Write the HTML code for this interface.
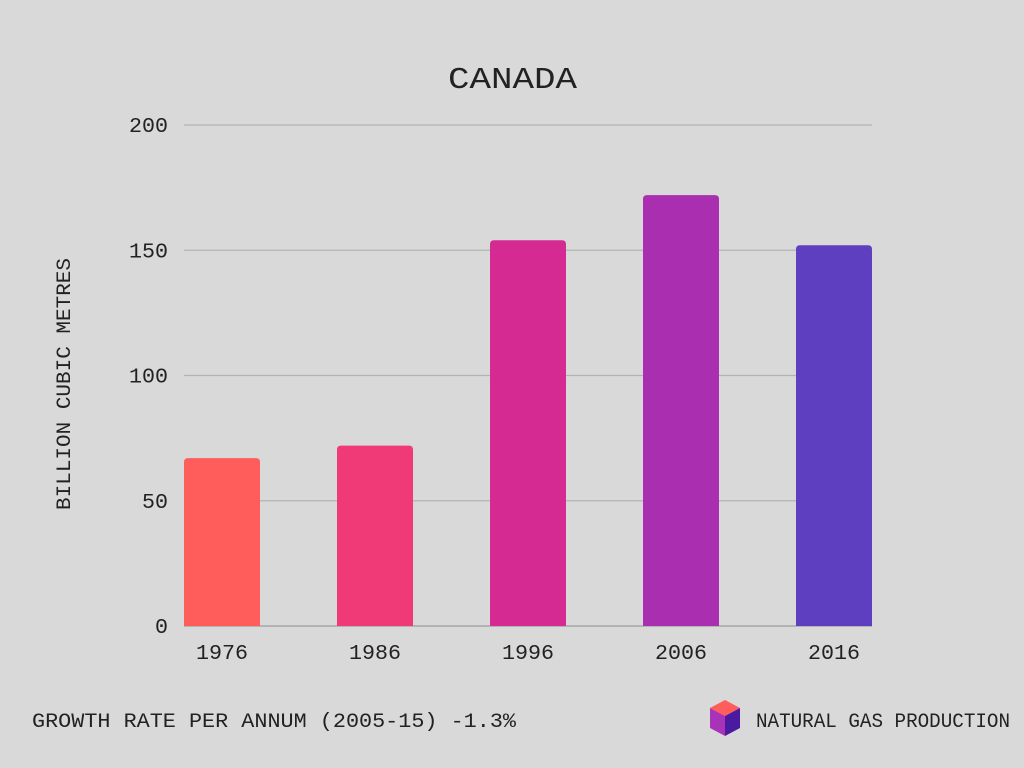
<!DOCTYPE html>
<html><head><meta charset="utf-8"><style>
body{margin:0;background:#d9d9d9;}
svg{display:block;font-family:"Liberation Mono","DejaVu Sans Mono",monospace;}
</style></head><body>
<svg id="chart" width="1024" height="768">
<rect width="1024" height="768" fill="#d9d9d9"/>
<text x="448" y="88" textLength="129" lengthAdjust="spacingAndGlyphs" font-size="31" fill="#222">CANADA</text>
<g id="grid"></g>
<g id="bars"></g>
<g id="xlabels"></g>
<text transform="translate(70,384) rotate(-90)" text-anchor="middle" textLength="252" lengthAdjust="spacingAndGlyphs" font-size="20" fill="#222">BILLION CUBIC METRES</text>
<text x="32" y="727" textLength="484" lengthAdjust="spacingAndGlyphs" font-size="20" fill="#222">GROWTH RATE PER ANNUM (2005-15) -1.3%</text>
<g>
<polygon points="725,700 740,708 725,716 710,708" fill="#ff5c5c"/>
<polygon points="710,708 725,716 725,736 710,728" fill="#a833b9"/>
<polygon points="740,708 725,716 725,736 740,728" fill="#4a1aa0"/>
</g>
<text x="756" y="727" textLength="254" lengthAdjust="spacingAndGlyphs" font-size="20" fill="#222">NATURAL GAS PRODUCTION</text>
</svg>
<script>
const categories=["1976","1986","1996","2006","2016"];
const values=[67,72,154,172,152];
const colors=["#ff5c5c","#f03a78","#d62a93","#a92eb0","#5e3fbf"];
const ticks=[0,50,100,150,200];
const NS="http://www.w3.org/2000/svg";
const y0=626,yTop=125,yMax=200,x0=184,step=153,bw=76;
const y=v=>y0-(v/yMax)*(y0-yTop);
const g=document.getElementById('grid'),b=document.getElementById('bars'),xl=document.getElementById('xlabels');
ticks.forEach(t=>{
 const l=document.createElementNS(NS,'line');
 l.setAttribute('x1',184);l.setAttribute('x2',872);l.setAttribute('y1',y(t));l.setAttribute('y2',y(t));
 l.setAttribute('stroke','#b3b3b3');l.setAttribute('stroke-width',t===0?2:1.2);
 
 
 g.appendChild(l);
 const tx=document.createElementNS(NS,'text');
 tx.setAttribute('x',168);tx.setAttribute('y',y(t)+7);tx.setAttribute('text-anchor','end');
 tx.setAttribute('font-size','21');tx.setAttribute('fill','#222');tx.textContent=t;
 tx.setAttribute('textLength',String(t).length*13);tx.setAttribute('lengthAdjust','spacingAndGlyphs');
 
 
 g.appendChild(tx);
});
values.forEach((v,i)=>{
 const x=x0+i*step;
 const p=document.createElementNS(NS,'path');
 const top=y(v),r=4;
 p.setAttribute('d',`M${x},${y0}V${top+r}Q${x},${top} ${x+r},${top}H${x+bw-r}Q${x+bw},${top} ${x+bw},${top+r}V${y0}Z`);
 p.setAttribute('fill',colors[i]);
 
 
 b.appendChild(p);
 const t=document.createElementNS(NS,'text');
 t.setAttribute('x',x+bw/2-26);t.setAttribute('y',659);
 t.setAttribute('font-size','21');t.setAttribute('fill','#222');t.textContent=categories[i];
 t.setAttribute('textLength','52');t.setAttribute('lengthAdjust','spacingAndGlyphs');
 
 
 xl.appendChild(t);
});
</script>
</body></html>
